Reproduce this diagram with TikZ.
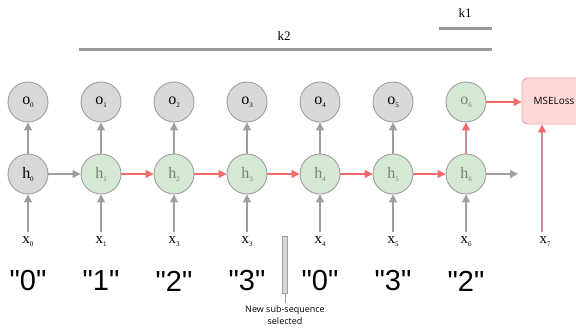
\documentclass[tikz,border=0pt]{standalone}
\usepackage{fontspec}
\setmainfont{Liberation Serif}
\newfontfamily\quotefont{Liberation Sans}
\newfontfamily\smallsans{Open Sans}
\usetikzlibrary{arrows.meta}
\definecolor{grayfill}{HTML}{D9D9D9}
\definecolor{grayline}{HTML}{9E9E9E}
\definecolor{greenfill}{HTML}{D5E8D4}
\definecolor{greentext}{HTML}{6F8A66}
\definecolor{redline}{HTML}{F26A6A}
\definecolor{mutedred}{HTML}{C48E8E}
\definecolor{pinkfill}{HTML}{FFD9D9}
\definecolor{pinkline}{HTML}{F2A0A0}
\definecolor{barline}{HTML}{999999}
\tikzset{
  cell/.style={circle, minimum size=40pt, inner sep=0pt, draw=grayline, line width=0.9pt, font=\fontsize{16}{16}\selectfont},
  graycell/.style={cell, fill=grayfill, text=black},
  greencell/.style={cell, fill=greenfill, text=greentext},
  garrow/.style={draw=grayline, line width=1.3pt, -{Triangle[length=8pt,width=8pt]}},
  rarrow/.style={draw=redline, line width=1.3pt, -{Triangle[length=8pt,width=8pt]}},
  marrow/.style={draw=mutedred, line width=1.3pt, -{Triangle[length=8pt,width=8pt,color=redline]}},
  xlab/.style={font=\fontsize{15}{15}\selectfont, inner sep=0pt},
  qlab/.style={font=\quotefont\fontsize{29}{29}\selectfont, inner sep=0pt},
  span/.style={draw=barline, line width=3pt},
  spanlab/.style={font=\fontsize{13}{13}\selectfont, inner sep=0pt},
}
\newcommand{\subidx}[1]{\raisebox{-3pt}{\fontsize{7}{7}\selectfont #1}}
\begin{document}
\begin{tikzpicture}[x=1pt,y=-1pt]
\useasboundingbox (0,0) rectangle (576,332);
% spans
\coordinate (k1a) at (439,28); \coordinate (k1b) at (492,28);
\coordinate (k2a) at (79,49); \coordinate (k2b) at (492,49);
\draw[span] (k1a) -- (k1b);
\draw[span] (k2a) -- (k2b);
\node[spanlab] (k1) at (465,13) {k1};
\node[spanlab] (k2) at (284,36) {k2};
% outputs
\node[graycell] (o0) at (28,102) {o\subidx{0}};
\node[graycell] (o1) at (101,102) {o\subidx{1}};
\node[graycell] (o2) at (174,102) {o\subidx{2}};
\node[graycell] (o3) at (247,102) {o\subidx{3}};
\node[graycell] (o4) at (320,102) {o\subidx{4}};
\node[graycell] (o5) at (393,102) {o\subidx{5}};
\node[greencell] (o6) at (466,102) {o\subidx{6}};
% hidden
\node[graycell] (h0) at (28,174) {h\subidx{0}};
\node[greencell] (h1) at (101,174) {h\subidx{1}};
\node[greencell] (h2) at (174,174) {h\subidx{2}};
\node[greencell] (h3) at (247,174) {h\subidx{3}};
\node[greencell] (h4) at (320,174) {h\subidx{4}};
\node[greencell] (h5) at (393,174) {h\subidx{5}};
\node[greencell] (h6) at (466,174) {h\subidx{6}};
% inputs
\node[xlab] (x0) at (28,242) {x\subidx{0}};
\node[xlab] (x1) at (101,242) {x\subidx{1}};
\node[xlab] (x2) at (174,242) {x\subidx{3}};
\node[xlab] (x3) at (247,242) {x\subidx{3}};
\node[xlab] (x4) at (320,242) {x\subidx{4}};
\node[xlab] (x5) at (393,242) {x\subidx{5}};
\node[xlab] (x6) at (466,242) {x\subidx{6}};
\node[xlab] (x7) at (545,242) {x\subidx{7}};
% quotes
\node[qlab] (q0) at (28,281) {"0"};
\node[qlab] (q1) at (101,281) {"1"};
\node[qlab] (q2) at (174,281) {"2"};
\node[qlab] (q3) at (247,281) {"3"};
\node[qlab] (q4) at (320,281) {"0"};
\node[qlab] (q5) at (393,281) {"3"};
\node[qlab] (q6) at (466,281) {"2"};
% loss box
\node[draw=pinkline, fill=pinkfill, rounded corners=6pt, line width=0.9pt, minimum width=64pt, minimum height=46pt, font=\smallsans\fontsize{10}{10}\selectfont, inner sep=0pt] (loss) at (554,101) {MSELoss};
% connectors x -> h
\foreach \i in {0,...,6} {
  \draw[garrow] ([yshift=5pt]x\i.north) -- (h\i.south);
}
\foreach \i in {0,...,5} {
  \draw[garrow] (h\i.north) -- (o\i.south);
}
\draw[marrow] (h6.north) -- (o6.south);
\draw[garrow] (h0.east) -- (h1.west);
\draw[rarrow] (h1.east) -- (h2.west);
\draw[rarrow] (h2.east) -- (h3.west);
\draw[rarrow] (h3.east) -- (h4.west);
\draw[rarrow] (h4.east) -- (h5.west);
\draw[rarrow] (h5.east) -- (h6.west);
\coordinate (hend) at (518,174);
\draw[garrow] (h6.east) -- (hend);
\draw[rarrow] (o6.east) -- (loss.west |- o6.east);
\coordinate (x7top) at (542,232);
\draw[marrow] (x7top) -- (loss.south -| x7top);
% sub-sequence marker
\node[draw=grayline, fill=grayfill, line width=0.8pt, minimum width=5pt, minimum height=57pt, inner sep=0pt] (bar) at (285,264.5) {};
\coordinate (barend) at (285,303);
\draw[grayline, line width=0.8pt] (bar.south) -- (barend);
\node[font=\smallsans\fontsize{9}{12.5}\selectfont, align=center, inner sep=0pt, anchor=north] (sel) at (285,305) {New sub-sequence\\selected};
\end{tikzpicture}
\end{document}
